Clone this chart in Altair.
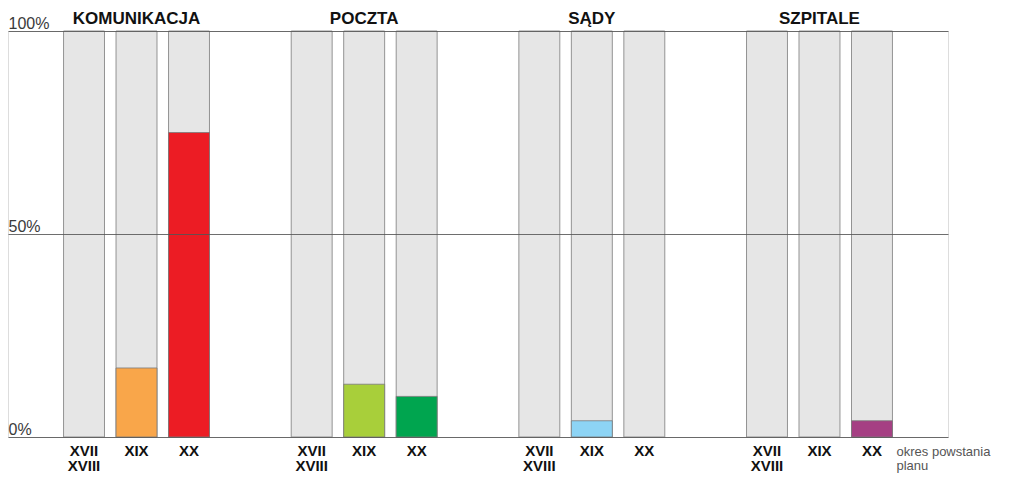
import altair as alt
import pandas as pd

groups = ["KOMUNIKACJA", "POCZTA", "SĄDY", "SZPITALE"]
periods = ["XVII\nXVIII", "XIX", "XX"]
values = {
    "KOMUNIKACJA": [0, 17, 75],
    "POCZTA": [0, 13, 10],
    "SĄDY": [0, 4, 0],
    "SZPITALE": [0, 0, 4],
}
colors = {
    "KOMUNIKACJA": ["#E6E6E6", "#F9A64A", "#EC1C24"],
    "POCZTA": ["#E6E6E6", "#A8CF3A", "#00A54F"],
    "SĄDY": ["#E6E6E6", "#8DD4F5", "#E6E6E6"],
    "SZPITALE": ["#E6E6E6", "#E6E6E6", "#A53F83"],
}
full_value = 100
y_ticks = [0, 50, 100]
x_title = ["okres powstania", "planu"]

rows = []
for g in groups:
    for i, p in enumerate(periods):
        rows.append({"group": g, "period": p, "value": values[g][i],
                     "color": colors[g][i], "full": full_value})
df = pd.DataFrame(rows)
gdf = pd.DataFrame({"group": groups})

FONT = "Liberation Sans"
H = 406

x_enc = alt.X(
    "group:N", sort=groups, title=x_title,
    scale=alt.Scale(paddingInner=0.359, paddingOuter=0.244),
    axis=alt.Axis(labels=False, ticks=False, domain=False, grid=False,
                  titleX=888, titleY=8, titleAlign="left", titleBaseline="top",
                  titleFont=FONT, titleFontSize=13, titleFontWeight="normal",
                  titleColor="#555555", titleLineHeight=14),
)
xo_enc = alt.XOffset("period:N", sort=periods,
                     scale=alt.Scale(paddingInner=0.22, paddingOuter=0))
y_axis = alt.Axis(values=y_ticks, labelExpr="datum.value + '%'", grid=True,
                  gridColor="#555555", gridOpacity=0.85, gridWidth=1,
                  domain=False, ticks=False, tickSize=0, labelPadding=0,
                  labelAlign="left", labelBaseline="bottom",
                  labelFont=FONT, labelFontSize=16, labelColor="#3a3a3a",
                  title=None, zindex=1)

base = alt.Chart(df)

bg = base.mark_bar(color="#E6E6E6", stroke="#939393", strokeWidth=1).encode(
    x=x_enc, xOffset=xo_enc,
    y=alt.Y("full:Q", scale=alt.Scale(domain=[0, 100], nice=False), axis=y_axis),
)

fg = base.transform_filter("datum.value > 0").mark_bar(
    stroke="#7a7a7a", strokeWidth=1, strokeOpacity=0.8).encode(
    x=x_enc, xOffset=xo_enc,
    y=alt.Y("value:Q"),
    color=alt.Color("color:N", scale=None),
)

plabels = base.mark_text(font=FONT, fontSize=15, fontWeight="bold",
                         baseline="top", lineBreak="\n", lineHeight=15,
                         color="#111111").encode(
    x=x_enc, xOffset=xo_enc,
    y=alt.value(H + 7),
    text="period:N",
)

titles = alt.Chart(gdf).mark_text(font=FONT, fontSize=17, fontWeight="bold",
                                  baseline="middle", color="#111111").encode(
    x=x_enc,
    y=alt.value(-12),
    text="group:N",
)

chart = alt.layer(bg, fg, plabels, titles).properties(
    width=940, height=H,
    autosize=alt.AutoSizeParams(type="none"),
    padding={"left": 0, "top": 23, "right": 56, "bottom": 37},
).configure_view(stroke=None).configure(background="white")

chart.save("out.html", embed_options={"renderer": "svg", "actions": False})
